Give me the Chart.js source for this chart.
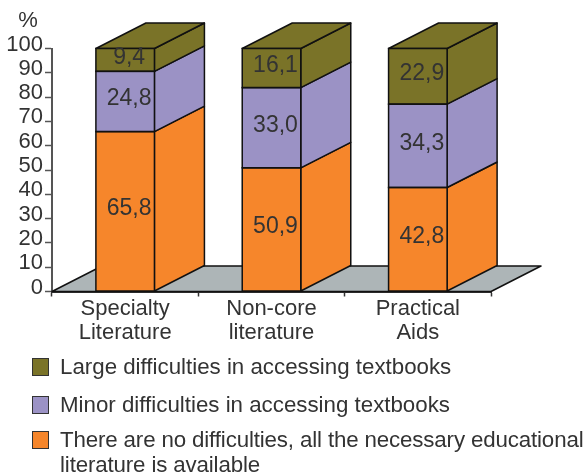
<!DOCTYPE html>
<html>
<head>
<meta charset="utf-8">
<script src="https://cdn.jsdelivr.net/npm/chart.js@4"></script>
<style>
    html, body { margin: 0; padding: 0; background: #fff; }
    #wrap { position: relative; width: 588px; height: 473px; overflow: hidden; }
    #chart { position: absolute; left: 0; top: 0; }
    #legend { position: absolute; left: 0; top: 0; font-family: "Liberation Sans", sans-serif; font-size: 22.3px; line-height: 24.5px; color: #333; }
    .item { position: absolute; left: 60px; width: 527px; }
    .swatch { position: absolute; left: -28.5px; top: 3px; width: 17.5px; height: 17.5px; box-sizing: border-box; border: 1.5px solid #333; }
</style>
</head>
<body>
<div id="wrap">
    <canvas id="chart" width="588" height="473"></canvas>
    <div id="legend"></div>
</div>
<script>
const categories = [['Specialty', 'Literature'], ['Non-core', 'literature'], ['Practical', 'Aids']];
const seriesNames = [
    'There are no difficulties, all the necessary educational literature is available',
    'Minor difficulties in accessing textbooks',
    'Large difficulties in accessing textbooks'
];
const noDifficulties = [65.8, 50.9, 42.8];
const minorDifficulties = [24.8, 33.0, 34.3];
const largeDifficulties = [9.4, 16.1, 22.9];
const seriesColors = ['#f6862b', '#9b92c5', '#7a7328'];
const yTicks = [0, 10, 20, 30, 40, 50, 60, 70, 80, 90, 100];

const DEPTH_X = 50;
const DEPTH_Y = -25.5;
const FONT = '"Liberation Sans", sans-serif';

function poly(ctx, pts, fill) {
    ctx.beginPath();
    pts.forEach((p, i) => i ? ctx.lineTo(p[0], p[1]) : ctx.moveTo(p[0], p[1]));
    ctx.closePath();
    ctx.fillStyle = fill;
    ctx.fill();
    ctx.stroke();
}

// floor and side faces of the fake 3d bars
const depthPlugin = {
    id: 'depth',
    beforeDatasetsDraw(chart) {
        const { ctx, chartArea: a } = chart;
        ctx.save();
        ctx.strokeStyle = '#111';
        ctx.lineWidth = 1.5;
        ctx.lineJoin = 'round';
        poly(ctx, [[a.left, a.bottom], [a.left + DEPTH_X, a.bottom + DEPTH_Y],
            [a.right + DEPTH_X, a.bottom + DEPTH_Y], [a.right, a.bottom]], '#adb5b7');
        chart.data.datasets.forEach((ds, d) => {
            chart.getDatasetMeta(d).data.forEach((bar) => {
                const r = bar.x + bar.width / 2;
                const l = bar.x - bar.width / 2;
                poly(ctx, [[r, bar.y], [r + DEPTH_X, bar.y + DEPTH_Y],
                    [r + DEPTH_X, bar.base + DEPTH_Y], [r, bar.base]], ds.backgroundColor);
                if (d === chart.data.datasets.length - 1) {
                    poly(ctx, [[l, bar.y], [l + DEPTH_X, bar.y + DEPTH_Y],
                        [r + DEPTH_X, bar.y + DEPTH_Y], [r, bar.y]], ds.backgroundColor);
                }
            });
        });
        ctx.restore();
    },
    afterDatasetsDraw(chart) {
        const { ctx } = chart;
        ctx.save();
        ctx.strokeStyle = '#111';
        ctx.lineWidth = 1.5;
        ctx.fillStyle = '#333';
        ctx.font = '23px ' + FONT;
        ctx.textAlign = 'center';
        ctx.textBaseline = 'middle';
        chart.data.datasets.forEach((ds, d) => {
            chart.getDatasetMeta(d).data.forEach((bar, i) => {
                // outline here, chart.js borders sit inside the bar and double up
                ctx.strokeRect(bar.x - bar.width / 2, bar.y, bar.width, bar.base - bar.y);
                const txt = ds.data[i].toFixed(1).replace('.', ',');
                ctx.fillText(txt, bar.x + 4, (bar.y + bar.base) / 2 - 2.5);
            });
        });
        ctx.font = '22px ' + FONT;
        ctx.fillText('%', 28, 21);
        ctx.restore();
    }
};

new Chart(document.getElementById('chart'), {
    type: 'bar',
    data: {
        labels: categories,
        datasets: [
            { label: seriesNames[0], data: noDifficulties, backgroundColor: seriesColors[0] },
            { label: seriesNames[1], data: minorDifficulties, backgroundColor: seriesColors[1] },
            { label: seriesNames[2], data: largeDifficulties, backgroundColor: seriesColors[2] }
        ]
    },
    options: {
        responsive: false,
        animation: false,
        layout: { padding: { left: 0, right: 97, top: 48.5, bottom: 0 } },
        datasets: { bar: { barPercentage: 0.4, categoryPercentage: 1, borderWidth: 0 } },
        plugins: { legend: { display: false }, tooltip: { enabled: false } },
        scales: {
            x: {
                stacked: true,
                afterFit: (s) => { s.height = 181.5; },
                border: { color: '#333', width: 2 },
                grid: { drawOnChartArea: false, tickLength: 5, color: '#333', tickWidth: 1.5 },
                ticks: { color: '#333', font: { family: FONT, size: 22, lineHeight: 1.1 }, padding: 0, maxRotation: 0 }
            },
            y: {
                stacked: true,
                min: 0,
                max: 100,
                afterFit: (s) => { s.width = 52; },
                afterBuildTicks: (s) => { s.ticks = yTicks.map((v) => ({ value: v })); },
                border: { color: '#555', width: 2 },
                grid: { drawOnChartArea: false, tickLength: 7, color: '#555', tickWidth: 1.5 },
                ticks: { color: '#333', font: { family: FONT, size: 22 }, padding: 2, autoSkip: false, labelOffset: -4 }
            }
        }
    },
    plugins: [depthPlugin]
});

// legend, top entry first
const legendBox = document.getElementById('legend');
const legendTops = [428, 393, 355];
seriesNames.forEach((name, i) => {
    const item = document.createElement('div');
    item.className = 'item';
    item.style.top = legendTops[i] + 'px';
    if (i === 0) item.style.letterSpacing = '-0.14px';
    const sw = document.createElement('span');
    sw.className = 'swatch';
    sw.style.background = seriesColors[i];
    item.appendChild(sw);
    item.appendChild(document.createTextNode(name));
    legendBox.appendChild(item);
});
</script>
</body>
</html>
